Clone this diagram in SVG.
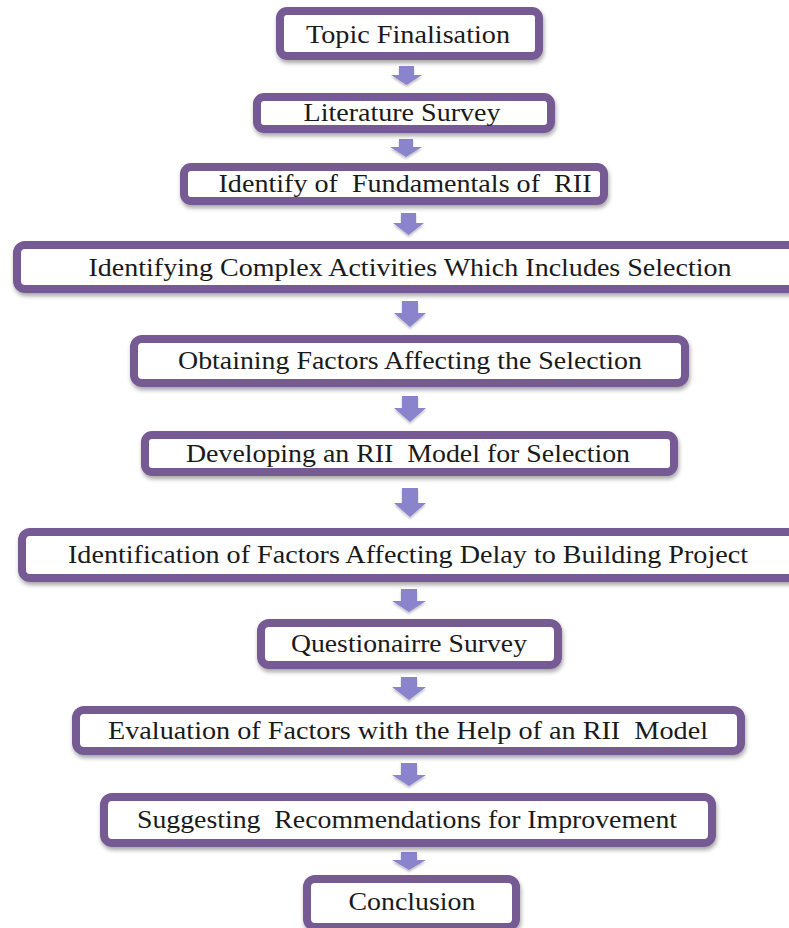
<svg xmlns="http://www.w3.org/2000/svg" width="789" height="928" viewBox="0 0 789 928">
<defs>
<filter id="sh" x="-10%" y="-30%" width="120%" height="170%">
<feDropShadow dx="1" dy="3" stdDeviation="2" flood-color="#000" flood-opacity="0.35"/>
</filter>
<filter id="ash" x="-50%" y="-50%" width="200%" height="200%">
<feDropShadow dx="0" dy="2" stdDeviation="1.2" flood-color="#000" flood-opacity="0.25"/>
</filter>
</defs>
<style>
.box{fill:#ffffff;stroke:#765a93;stroke-width:8;filter:url(#sh)}
.t{font-family:"Liberation Serif","Times New Roman",serif;font-size:25px;fill:#1a1a1a;text-anchor:middle;white-space:pre}
.arr{fill:#8a84cc;filter:url(#ash)}
</style>
<rect width="789" height="928" fill="#ffffff"/>
<g id="connectors">
<path class="arr" d="M399,66 H414 V75 H422 L406.5,85 L391,75 H399 Z"/>
<path class="arr" d="M399,139 H413 V147 H422 L406,157 L390,147 H399 Z"/>
<path class="arr" d="M401,213 H416 V223 H424 L408.5,235 L393,223 H401 Z"/>
<path class="arr" d="M402,301 H418 V313 H426 L410,327 L394,313 H402 Z"/>
<path class="arr" d="M402,396 H418 V408 H426 L410,422 L394,408 H402 Z"/>
<path class="arr" d="M402,488 H418 V503 H426 L410,517 L394,503 H402 Z"/>
<path class="arr" d="M401,589 H417 V601 H426 L409,612 L392,601 H401 Z"/>
<path class="arr" d="M401,677 H417 V687 H426 L409,700 L392,687 H401 Z"/>
<path class="arr" d="M401,763 H417 V775 H426 L409,786 L392,775 H401 Z"/>
<path class="arr" d="M401,852 H417 V860 H426 L409,870 L392,860 H401 Z"/>
</g>
<g id="n1"><rect class="box" x="280" y="11" width="259" height="45" rx="7"/><text class="t" x="408" y="43" textLength="204" lengthAdjust="spacingAndGlyphs">Topic Finalisation</text></g>
<g id="n2"><rect class="box" x="257" y="97" width="294" height="32" rx="7"/><text class="t" x="402" y="121" textLength="197" lengthAdjust="spacingAndGlyphs">Literature Survey</text></g>
<g id="n3"><rect class="box" x="184" y="167" width="420" height="34" rx="7"/><text class="t" x="405" y="192" textLength="373" lengthAdjust="spacingAndGlyphs" xml:space="preserve">Identify of  Fundamentals of  RII</text></g>
<g id="n4"><rect class="box" x="17" y="245" width="790" height="44" rx="8"/><text class="t" x="410" y="276" textLength="643" lengthAdjust="spacingAndGlyphs">Identifying Complex Activities Which Includes Selection</text></g>
<g id="n5"><rect class="box" x="134" y="339" width="551" height="44" rx="8"/><text class="t" x="410" y="369" textLength="464" lengthAdjust="spacingAndGlyphs">Obtaining Factors Affecting the Selection</text></g>
<g id="n6"><rect class="box" x="145" y="435" width="529" height="37" rx="7"/><text class="t" x="408" y="462" textLength="444" lengthAdjust="spacingAndGlyphs" xml:space="preserve">Developing an RII  Model for Selection</text></g>
<g id="n7"><rect class="box" x="22" y="532" width="785" height="46" rx="8"/><text class="t" x="408" y="563" textLength="680" lengthAdjust="spacingAndGlyphs">Identification of Factors Affecting Delay to Building Project</text></g>
<g id="n8"><rect class="box" x="261" y="623" width="297" height="42" rx="8"/><text class="t" x="409" y="652" textLength="236" lengthAdjust="spacingAndGlyphs">Questionairre Survey</text></g>
<g id="n9"><rect class="box" x="76" y="710" width="665" height="41" rx="8"/><text class="t" x="408" y="739" textLength="600" lengthAdjust="spacingAndGlyphs" xml:space="preserve">Evaluation of Factors with the Help of an RII  Model</text></g>
<g id="n10"><rect class="box" x="104" y="797" width="608" height="46" rx="8"/><text class="t" x="407" y="828" textLength="540" lengthAdjust="spacingAndGlyphs" xml:space="preserve">Suggesting  Recommendations for Improvement</text></g>
<g id="n11"><rect class="box" x="307" y="879" width="209" height="48" rx="8"/><text class="t" x="412" y="910" textLength="127" lengthAdjust="spacingAndGlyphs">Conclusion</text></g>
</svg>
